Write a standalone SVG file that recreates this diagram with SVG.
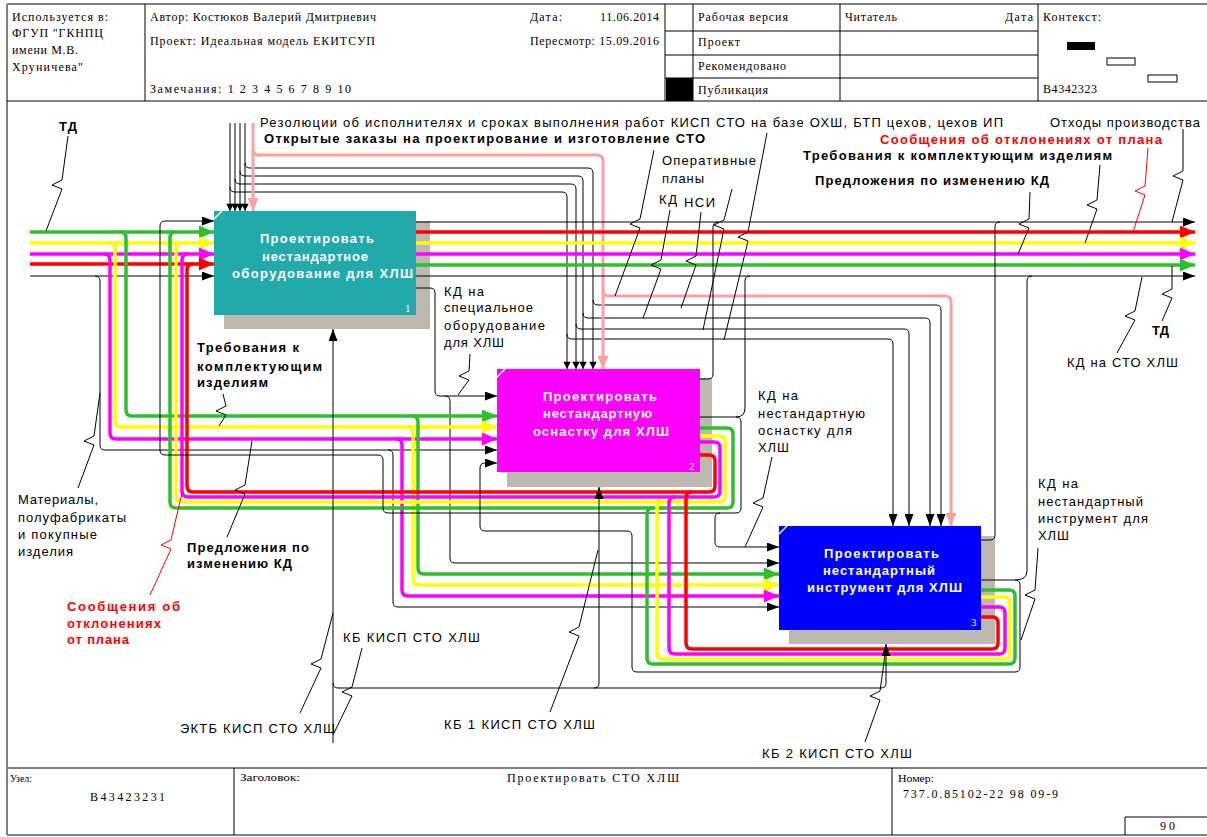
<svg xmlns="http://www.w3.org/2000/svg" width="1207" height="837" viewBox="0 0 1207 837">
<defs>
<style>
.t{font-family:"Liberation Sans",Arial,sans-serif;font-size:13px;fill:#000}
.b{font-weight:bold}
.rd{fill:#f00}
.h{font-family:"Liberation Serif","Times New Roman",serif;font-size:12px;fill:#000}
.nt{font-family:"Liberation Sans",Arial,sans-serif;font-size:13px;font-weight:bold;fill:#fff}
.nn{font-family:"Liberation Serif","Times New Roman",serif;font-size:11px;fill:#fff}
.k{fill:none;stroke:#000;stroke-width:1;stroke-linejoin:round}
.cg{fill:none;stroke:#2EBE2E;stroke-width:3.5;stroke-linejoin:round}
.cy{fill:none;stroke:#FFFF00;stroke-width:3.5;stroke-linejoin:round}
.cm{fill:none;stroke:#FF00FF;stroke-width:3.5;stroke-linejoin:round}
.cr{fill:none;stroke:#FF0000;stroke-width:3.5;stroke-linejoin:round}
.cp{fill:none;stroke:#FFA0A0;stroke-width:3;stroke-linejoin:round}
.sq{fill:none;stroke:#000;stroke-width:1}
.sqr{fill:none;stroke:#f00;stroke-width:1}
.fl{fill:none;stroke:#000;stroke-width:1}
.fg{fill:none;stroke:#808080;stroke-width:2}
</style>
<marker id="mk" viewBox="0 0 12 9" refX="12" refY="4.5" markerWidth="12" markerHeight="9" orient="auto" markerUnits="userSpaceOnUse"><path d="M0,0L12,4.5L0,9z" fill="#000"/></marker>
<marker id="mks" viewBox="0 0 9 11" refX="9" refY="4.5" markerWidth="11" markerHeight="9" orient="auto" markerUnits="userSpaceOnUse"><path d="M0,0L9,4.5L0,9z" fill="#000"/></marker>
<marker id="mg" viewBox="0 0 15 13" refX="15" refY="6.5" markerWidth="15" markerHeight="13" orient="auto" markerUnits="userSpaceOnUse"><path d="M0,0L15,6.5L0,13z" fill="#2EBE2E"/></marker>
<marker id="my" viewBox="0 0 15 13" refX="15" refY="6.5" markerWidth="15" markerHeight="13" orient="auto" markerUnits="userSpaceOnUse"><path d="M0,0L15,6.5L0,13z" fill="#FFFF00"/></marker>
<marker id="mm" viewBox="0 0 15 13" refX="15" refY="6.5" markerWidth="15" markerHeight="13" orient="auto" markerUnits="userSpaceOnUse"><path d="M0,0L15,6.5L0,13z" fill="#FF00FF"/></marker>
<marker id="mr" viewBox="0 0 15 13" refX="15" refY="6.5" markerWidth="15" markerHeight="13" orient="auto" markerUnits="userSpaceOnUse"><path d="M0,0L15,6.5L0,13z" fill="#FF0000"/></marker>
<marker id="mp" viewBox="0 0 13 11" refX="13" refY="5.5" markerWidth="13" markerHeight="11" orient="auto" markerUnits="userSpaceOnUse"><path d="M0,0L13,5.5L0,11z" fill="#FFA0A0"/></marker>
</defs>
<rect x="0" y="0" width="1207" height="837" fill="#fff"/>

<g id="frame">
<path class="fg" d="M7,4H1207M7,4V835M7,768H1207M7,835H1207"/>
<path class="fl" d="M7,101H1207M145,4V101M665,4V101M693,4V101M840,4V101M1038,4V101M665,31H1038M665,55H1038M665,78H1038M234,768V835M892,768V835M1125,817H1207M1125,817V835" />
<rect x="666" y="78" width="27" height="23" fill="#000"/>
<rect x="1067" y="42" width="28" height="8" fill="#000"/>
<rect x="1107" y="58" width="28" height="7" fill="#fff" stroke="#000"/>
<rect x="1148" y="75" width="29" height="7" fill="#fff" stroke="#000"/>
<text class="h" x="12" y="21" textLength="96" lengthAdjust="spacing">Используется в:</text>
<text class="h" x="12" y="37" textLength="91" lengthAdjust="spacing">ФГУП "ГКНПЦ</text>
<text class="h" x="12" y="54" textLength="66" lengthAdjust="spacing">имени М.В.</text>
<text class="h" x="12" y="71" textLength="71" lengthAdjust="spacing">Хруничева"</text>
<text class="h" x="150" y="21" textLength="226" lengthAdjust="spacing">Автор:  Костюков Валерий Дмитриевич</text>
<text class="h" x="150" y="45" textLength="225" lengthAdjust="spacing">Проект:  Идеальная модель ЕКИТСУП</text>
<text class="h" x="150" y="93" textLength="201" lengthAdjust="spacing">Замечания: 1 2 3 4 5 6 7 8 9 10</text>
<text class="h" x="530" y="21" textLength="32" lengthAdjust="spacing">Дата:</text>
<text class="h" x="600" y="21" textLength="59" lengthAdjust="spacing">11.06.2014</text>
<text class="h" x="530" y="45" textLength="129" lengthAdjust="spacing">Пересмотр: 15.09.2016</text>
<text class="h" x="698" y="21" textLength="90" lengthAdjust="spacing">Рабочая версия</text>
<text class="h" x="698" y="46" textLength="42" lengthAdjust="spacing">Проект</text>
<text class="h" x="698" y="70" textLength="88" lengthAdjust="spacing">Рекомендовано</text>
<text class="h" x="698" y="94" textLength="70" lengthAdjust="spacing">Публикация</text>
<text class="h" x="845" y="21" textLength="52" lengthAdjust="spacing">Читатель</text>
<text class="h" x="1005" y="21" textLength="28" lengthAdjust="spacing">Дата</text>
<text class="h" x="1043" y="21" textLength="58" lengthAdjust="spacing">Контекст:</text>
<text class="h" x="1043" y="93" textLength="54" lengthAdjust="spacing">B4342323</text>
<text class="h" x="10" y="782" textLength="22" lengthAdjust="spacingAndGlyphs" style="font-size:11px">Узел:</text>
<text class="h" x="90" y="801" textLength="75" lengthAdjust="spacing">B43423231</text>
<text class="h" x="240" y="781" textLength="60" lengthAdjust="spacingAndGlyphs" style="font-size:11px">Заголовок:</text>
<text class="h" x="507" y="782" textLength="172" lengthAdjust="spacing">Проектировать СТО ХЛШ</text>
<text class="h" x="898" y="782" textLength="36" lengthAdjust="spacingAndGlyphs" style="font-size:11px">Номер:</text>
<text class="h" x="903" y="798" textLength="155" lengthAdjust="spacing">737.0.85102-22 98 09-9</text>
<text class="h" x="1160" y="830" textLength="15" lengthAdjust="spacing">90</text>
</g>

<g id="node1">
<rect x="224" y="221" width="206" height="108" fill="#BDB9B1"/>
<rect x="214" y="211" width="202" height="104" fill="#22AAAA"/>
<path d="M214,219L222,211" stroke="#fff" stroke-width="1.5"/>
<text class="nt" x="260" y="243" textLength="114" lengthAdjust="spacing">Проектировать</text>
<text class="nt" x="262" y="261" textLength="106" lengthAdjust="spacing">нестандартное</text>
<text class="nt" x="232" y="278" textLength="181" lengthAdjust="spacing">оборудование для ХЛШ</text>
<text class="nn" x="405" y="312">1</text>
</g>
<g id="node2">
<rect x="507" y="378" width="205" height="109" fill="#BDB9B1"/>
<rect x="497" y="369" width="203" height="103" fill="#FF00FF"/>
<path d="M497,377L505,369" stroke="#fff" stroke-width="1.5"/>
<text class="nt" x="543" y="401" textLength="114" lengthAdjust="spacing">Проектировать</text>
<text class="nt" x="543" y="418" textLength="109" lengthAdjust="spacing">нестандартную</text>
<text class="nt" x="533" y="436" textLength="136" lengthAdjust="spacing">оснастку для ХЛШ</text>
<text class="nn" x="689" y="470">2</text>
</g>
<g id="node3">
<rect x="789" y="536" width="206" height="108" fill="#BDB9B1"/>
<rect x="779" y="526" width="202" height="104" fill="#0000FF"/>
<path d="M779,534L787,526" stroke="#fff" stroke-width="1.5"/>
<text class="nt" x="824" y="558" textLength="115" lengthAdjust="spacing">Проектировать</text>
<text class="nt" x="823" y="575" textLength="112" lengthAdjust="spacing">нестандартный</text>
<text class="nt" x="807" y="592" textLength="155" lengthAdjust="spacing">инструмент для ХЛШ</text>
<text class="nn" x="971" y="626">3</text>
</g>

<g id="connectors">
<!-- controls -->
<path class="k" d="M230,123V211" marker-end="url(#mks)"/>
<path class="k" d="M235,123V211" marker-end="url(#mks)"/>
<path class="k" d="M240,123V211" marker-end="url(#mks)"/>
<path class="k" d="M245,123V211" marker-end="url(#mks)"/>
<path class="k" d="M245,163Q245,168 250,168H588Q593,168 593,173V369" marker-end="url(#mks)"/>
<path class="k" d="M240,171Q240,176 245,176H578Q583,176 583,181V369" marker-end="url(#mks)"/>
<path class="k" d="M235,179Q235,184 240,184H571Q576,184 576,189V369" marker-end="url(#mks)"/>
<path class="k" d="M230,187Q230,192 235,192H562Q567,192 567,197V369" marker-end="url(#mks)"/>
<path class="k" d="M593,300Q593,305 598,305H936Q941,305 941,310V526" marker-end="url(#mk)"/>
<path class="k" d="M583,313Q583,318 588,318H925Q930,318 930,323V526" marker-end="url(#mk)"/>
<path class="k" d="M576,324Q576,329 581,329H904Q909,329 909,334V526" marker-end="url(#mk)"/>
<path class="k" d="M567,334Q567,339 572,339H888Q893,339 893,344V526" marker-end="url(#mk)"/>
<path class="cp" d="M253,123V211" marker-end="url(#mp)"/>
<path class="cp" d="M253,149Q253,155 259,155H597Q603,155 603,161V369" marker-end="url(#mp)"/>
<path class="cp" d="M603,290Q603,296 609,296H945Q951,296 951,302V526" marker-end="url(#mp)"/>
<!-- node1 outputs -->
<path class="k" d="M416,222H1195" marker-end="url(#mk)"/>
<path class="cr" d="M416,232H1195" marker-end="url(#mr)"/>
<path class="cy" d="M416,243H1195" marker-end="url(#my)"/>
<path class="cm" d="M416,254H1195" marker-end="url(#mm)"/>
<path class="cg" d="M416,265H1195" marker-end="url(#mg)"/>
<path class="k" d="M416,276H1195" marker-end="url(#mk)"/>
<path class="k" d="M416,288H430Q435,288 435,293V391Q435,396 440,396H497" marker-end="url(#mk)"/>
<path class="k" d="M445,396Q450,396 450,401V558Q450,563 455,563H779" marker-end="url(#mk)"/>
<!-- left inputs -->
<path class="cg" d="M30,232H214" marker-end="url(#mg)"/>
<path class="cy" d="M30,243H214" marker-end="url(#my)"/>
<path class="cm" d="M30,254H214" marker-end="url(#mm)"/>
<path class="cr" d="M30,264H214" marker-end="url(#mr)"/>
<path class="k" d="M30,276H214" marker-end="url(#mk)"/>
<path class="cg" d="M120,232Q126,232 126,238V410Q126,416 132,416H497" marker-end="url(#mg)"/>
<path class="cy" d="M109,243Q115,243 115,249V421Q115,427 121,427H497" marker-end="url(#my)"/>
<path class="cm" d="M104,254Q110,254 110,260V433Q110,439 116,439H497" marker-end="url(#mm)"/>
<path class="k" d="M95,276Q100,276 100,281V445Q100,450 105,450H497" marker-end="url(#mk)"/>
<path class="cg" d="M412,416Q418,416 418,422V568Q418,574 424,574H779" marker-end="url(#mg)"/>
<path class="cy" d="M407,427Q413,427 413,433V579Q413,585 419,585H779" marker-end="url(#my)"/>
<path class="cm" d="M396,439Q402,439 402,445V590Q402,596 408,596H779" marker-end="url(#mm)"/>
<path class="k" d="M388,450Q393,450 393,455V602Q393,607 398,607H779" marker-end="url(#mk)"/>
<!-- node2 outputs -->
<path class="cg" d="M700,428H727Q733,428 733,434V502Q733,508 727,508H176Q170,508 170,502V238Q170,232 176,232"/>
<path class="cy" d="M700,436H719Q725,436 725,442V496Q725,502 719,502H182Q176,502 176,496V249Q176,243 182,243"/>
<path class="cm" d="M700,442H714Q720,442 720,448V491Q720,497 714,497H188Q182,497 182,491V260Q182,254 188,254"/>
<path class="cr" d="M700,455H709Q715,455 715,461V486Q715,492 709,492H193Q187,492 187,486V270Q187,264 193,264"/>
<path class="k" d="M700,379H708Q713,379 713,374V227Q713,222 718,222"/>
<path class="k" d="M700,417H736Q741,417 741,422V508Q741,513 736,513H388Q383,513 383,508V460Q383,455 378,455H165Q160,455 160,450V226Q160,221 165,221H214" marker-end="url(#mk)"/>
<path class="k" d="M736,417Q745,417 745,408V281Q745,276 750,276"/>
<path class="k" d="M720,513Q715,513 715,518V542Q715,547 720,547H779" marker-end="url(#mk)"/>
<!-- node3 outputs -->
<path class="cg" d="M981,590H1009Q1015,590 1015,596V658Q1015,664 1009,664H653Q647,664 647,658V514Q647,508 653,508"/>
<path class="cy" d="M981,597H1004Q1010,597 1010,603V653Q1010,659 1004,659H663Q657,659 657,653V508Q657,502 663,502"/>
<path class="cm" d="M981,607H999Q1005,607 1005,613V648Q1005,654 999,654H675Q669,654 669,648V503Q669,497 675,497"/>
<path class="cr" d="M981,617H992Q998,617 998,623V643Q998,649 992,649H692Q686,649 686,643V498Q686,492 692,492"/>
<path class="k" d="M981,540H990Q995,540 995,535V227Q995,222 1000,222"/>
<path class="k" d="M981,580H1015Q1020,580 1020,585V667Q1020,672 1015,672H637Q632,672 632,667V536Q632,531 627,531H485Q480,531 480,526V468Q480,463 485,463H497" marker-end="url(#mk)"/>
<path class="k" d="M1015,580Q1027,580 1027,571V281Q1027,276 1032,276"/>
<!-- mechanisms -->
<path class="k" d="M333,743V329" marker-end="url(#mk)"/>
<path class="k" d="M333,683Q333,688 338,688H881Q886,688 886,683V644" marker-end="url(#mk)"/>
<path class="k" d="M594,688Q599,688 599,683V487" marker-end="url(#mk)"/>
<!-- squiggles -->
<path class="sq" d="M68,136L62,180L52,185L62,189L46,231"/>
<path class="sq" d="M100,393L94,436L84,441L94,445L78,488"/>
<path class="sq" d="M223,394L226,406L216,411L226,415L219,426"/>
<path class="sq" d="M252,441L245,485L235,490L245,494L227,537"/>
<path class="sqr" d="M182,493L171,540L161,545L171,549L150,595"/>
<path class="sq" d="M333,613L321,659L311,664L321,668L300,713"/>
<path class="sq" d="M362,648L352,687L342,692L352,696L333,735"/>
<path class="sq" d="M598,550L579,627L569,632L579,636L550,712"/>
<path class="sq" d="M886,648L880,691L870,696L880,700L865,742"/>
<path class="sq" d="M470,354L469,371L459,376L469,380L458,395"/>
<path class="sq" d="M772,457L763,498L753,503L763,507L745,547"/>
<path class="sq" d="M1038,548L1035,590L1025,595L1035,599L1021,640"/>
<path class="sq" d="M1172,266L1172,289L1162,294L1172,298L1162,321"/>
<path class="sq" d="M1142,277L1135,311L1125,316L1135,320L1117,353"/>
<path class="sq" d="M1183,129L1183,171L1173,176L1183,180L1172,222"/>
<path class="sqr" d="M1148,148L1145,186L1135,191L1145,195L1133,232"/>
<path class="sq" d="M1100,165L1097,200L1087,205L1097,209L1085,243"/>
<path class="sq" d="M1030,192L1029,219L1019,224L1029,228L1018,254"/>
<path class="sq" d="M654,150L640,219L630,224L640,228L615,296"/>
<path class="sq" d="M670,210L661,260L651,265L661,269L643,318"/>
<path class="sq" d="M701,212L696,256L686,261L696,265L681,308"/>
<path class="sq" d="M732,189L724,220L714,225L724,229L703,330"/>
<path class="sq" d="M767,133L748,232L738,237L748,241L724,340"/>
</g>

<g id="labels">
<text class="t" x="260" y="127" textLength="743" lengthAdjust="spacing">Резолюции об исполнителях и сроках выполнения работ КИСП СТО на базе ОХШ, БТП цехов, цехов ИП</text>
<text class="t b" x="264" y="143" textLength="441" lengthAdjust="spacing">Открытые заказы на проектирование и изготовление СТО</text>
<text class="t" x="662" y="165" textLength="94" lengthAdjust="spacing">Оперативные</text>
<text class="t" x="662" y="183" textLength="42" lengthAdjust="spacing">планы</text>
<text class="t" x="659" y="204" textLength="18" lengthAdjust="spacing">КД</text>
<text class="t" x="684" y="207" textLength="31" lengthAdjust="spacing">НСИ</text>
<text class="t" x="1050" y="127" textLength="150" lengthAdjust="spacing">Отходы производства</text>
<text class="t b rd" x="880" y="144" textLength="282" lengthAdjust="spacing">Сообщения об отклонениях от плана</text>
<text class="t b" x="803" y="160" textLength="309" lengthAdjust="spacing">Требования к комплектующим изделиям</text>
<text class="t b" x="815" y="185" textLength="234" lengthAdjust="spacing">Предложения по изменению КД</text>
<text class="t b" x="1152" y="335" textLength="17" lengthAdjust="spacing">ТД</text>
<text class="t" x="1067" y="367" textLength="111" lengthAdjust="spacing">КД на СТО ХЛШ</text>
<text class="t b" x="59" y="131" textLength="18" lengthAdjust="spacing">ТД</text>
<text class="t" x="444" y="296" textLength="40" lengthAdjust="spacing">КД на</text>
<text class="t" x="444" y="312" textLength="89" lengthAdjust="spacing">специальное</text>
<text class="t" x="444" y="330" textLength="101" lengthAdjust="spacing">оборудование</text>
<text class="t" x="444" y="347" textLength="60" lengthAdjust="spacing">для ХЛШ</text>
<text class="t b" x="197" y="352" textLength="102" lengthAdjust="spacing">Требования к</text>
<text class="t b" x="197" y="371" textLength="125" lengthAdjust="spacing">комплектующим</text>
<text class="t b" x="197" y="387" textLength="71" lengthAdjust="spacing">изделиям</text>
<text class="t" x="758" y="400" textLength="40" lengthAdjust="spacing">КД на</text>
<text class="t" x="758" y="418" textLength="107" lengthAdjust="spacing">нестандартную</text>
<text class="t" x="758" y="435" textLength="94" lengthAdjust="spacing">оснастку для</text>
<text class="t" x="758" y="452" textLength="31" lengthAdjust="spacing">ХЛШ</text>
<text class="t" x="1038" y="488" textLength="40" lengthAdjust="spacing">КД на</text>
<text class="t" x="1038" y="506" textLength="105" lengthAdjust="spacing">нестандартный</text>
<text class="t" x="1038" y="523" textLength="110" lengthAdjust="spacing">инструмент для</text>
<text class="t" x="1038" y="540" textLength="31" lengthAdjust="spacing">ХЛШ</text>
<text class="t" x="18" y="504" textLength="80" lengthAdjust="spacing">Материалы,</text>
<text class="t" x="18" y="522" textLength="108" lengthAdjust="spacing">полуфабрикаты</text>
<text class="t" x="18" y="539" textLength="79" lengthAdjust="spacing">и покупные</text>
<text class="t" x="18" y="556" textLength="55" lengthAdjust="spacing">изделия</text>
<text class="t b" x="187" y="552" textLength="122" lengthAdjust="spacing">Предложения по</text>
<text class="t b" x="187" y="568" textLength="105" lengthAdjust="spacing">изменению КД</text>
<text class="t b rd" x="67" y="611" textLength="113" lengthAdjust="spacing">Сообщения об</text>
<text class="t b rd" x="67" y="628" textLength="94" lengthAdjust="spacing">отклонениях</text>
<text class="t b rd" x="67" y="644" textLength="62" lengthAdjust="spacing">от плана</text>
<text class="t" x="343" y="642" textLength="137" lengthAdjust="spacing">КБ КИСП СТО ХЛШ</text>
<text class="t" x="180" y="733" textLength="155" lengthAdjust="spacing">ЭКТБ КИСП СТО ХЛШ</text>
<text class="t" x="444" y="729" textLength="151" lengthAdjust="spacing">КБ 1 КИСП СТО ХЛШ</text>
<text class="t" x="762" y="758" textLength="150" lengthAdjust="spacing">КБ 2 КИСП СТО ХЛШ</text>
</g>
</svg>
